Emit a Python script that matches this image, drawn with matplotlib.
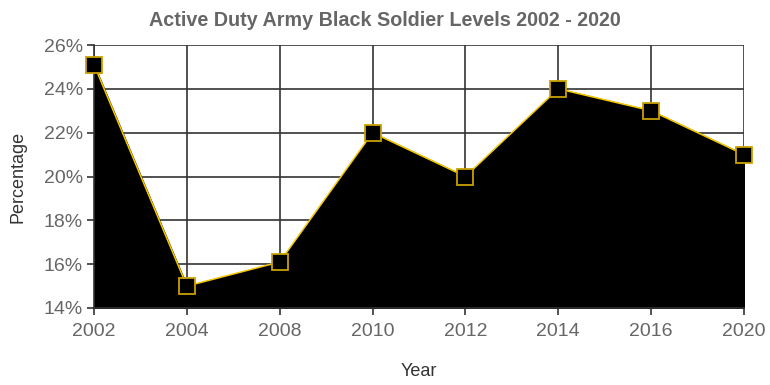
import matplotlib.pyplot as plt
import numpy as np

years = ['2002', '2004', '2008', '2010', '2012', '2014', '2016', '2020']
percent = [25.1, 15.0, 16.1, 22.0, 20.0, 24.0, 23.0, 21.0]
y_ticks = [14, 16, 18, 20, 22, 24, 26]

plt.rcParams['font.family'] = ['Liberation Sans', 'DejaVu Sans']
grey = '#666666'

fig = plt.figure(figsize=(7.7, 3.85), dpi=100)
ax = fig.add_axes([94 / 770, 77 / 385, 650 / 770, 263 / 385])

x = np.arange(len(years))
ax.fill_between(x, percent, 14, color='black', zorder=2)
ax.plot(x, percent, color='#f5c800', lw=1.1, zorder=3)
ax.plot(x, percent, ls='none', marker='s', ms=11.5, mfc='black',
        mec='#c9a000', mew=1.3, zorder=4, clip_on=False)

ax.set_xlim(0, len(years) - 1)
ax.set_ylim(14, 26)
ax.set_xticks(x)
ax.set_xticklabels(years)
ax.set_yticks(y_ticks)
ax.set_yticklabels([f'{t}%' for t in y_ticks])
ax.grid(True, color='#333333', lw=1.2, zorder=1)
ax.set_axisbelow(True)

for side in ['top', 'right']:
    ax.spines[side].set_visible(False)
for side in ['left', 'bottom']:
    ax.spines[side].set_color('#333333')
    ax.spines[side].set_linewidth(1.2)

ax.tick_params(axis='both', colors='#333333', labelcolor=grey,
               labelsize=14, length=5, width=1.2)
ax.tick_params(axis='x', pad=6)
ax.tick_params(axis='y', pad=3)

ax.set_xlabel('Year', fontsize=13, color='#333333', labelpad=16)
ax.set_ylabel('Percentage', fontsize=13, color='#333333', labelpad=12)
fig.text(385 / 770, 1 - 21 / 385, 'Active Duty Army Black Soldier Levels 2002 - 2020',
         ha='center', va='center', fontsize=14.2, fontweight='bold', color=grey)

fig.savefig('out.png', dpi=100)
